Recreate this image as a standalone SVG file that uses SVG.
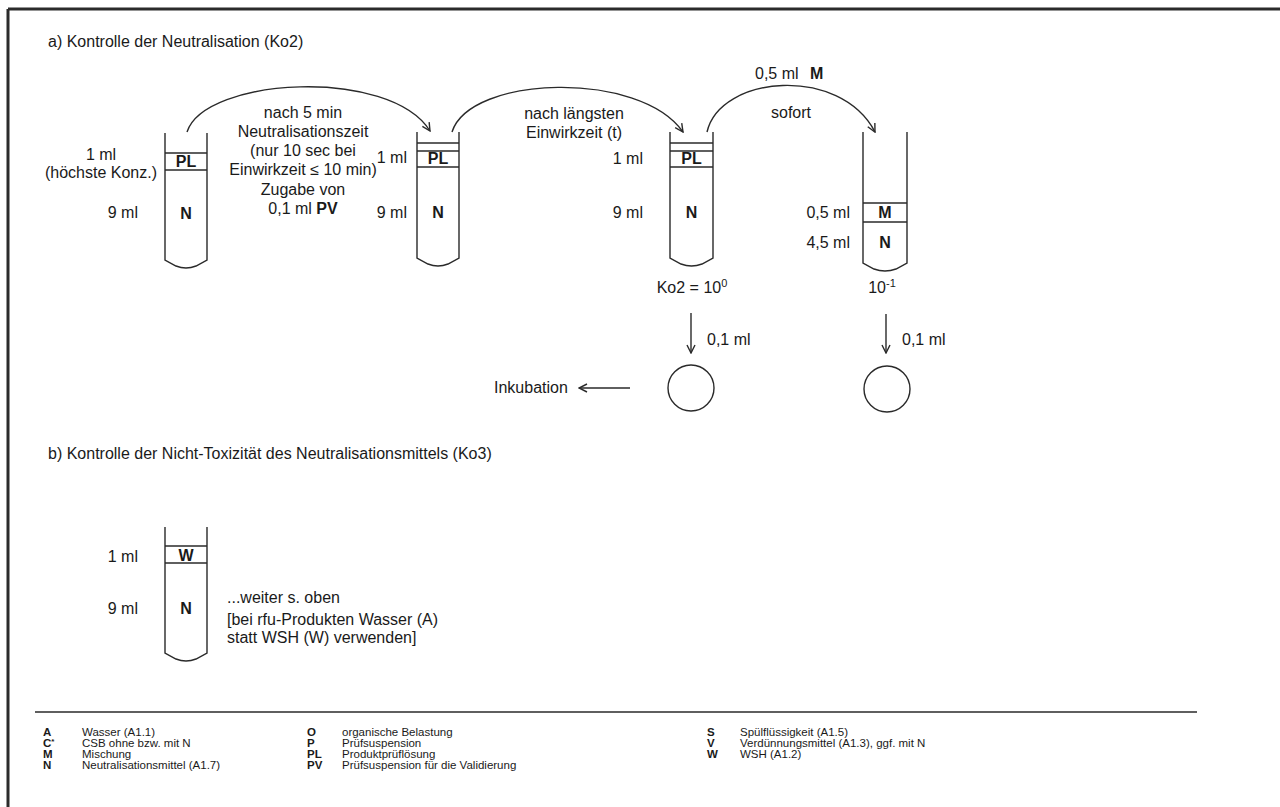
<svg xmlns="http://www.w3.org/2000/svg" width="1280" height="807" viewBox="0 0 1280 807">
<defs>
<style>
text{font-family:"Liberation Sans",Arial,sans-serif;fill:#1a1a1a;font-size:16px}
.b{font-weight:bold}
.c{text-anchor:middle}
.e{text-anchor:end}
.lg{font-size:11.5px}
.tube{fill:none;stroke:#2a2a2a;stroke-width:1.4}
.band{stroke:#2a2a2a;stroke-width:1.4}
.con{fill:none;stroke:#2a2a2a;stroke-width:1.4}
.plate{fill:none;stroke:#2a2a2a;stroke-width:1.4}
</style>
<marker id="ah" viewBox="0 0 10 10" refX="9" refY="5" markerWidth="10" markerHeight="10" markerUnits="userSpaceOnUse" orient="auto">
<path d="M1,1 L9,5 L1,9" fill="none" stroke="#2a2a2a" stroke-width="1.4"/>
</marker>
</defs>
<rect width="1280" height="807" fill="#ffffff"/>
<g id="frame">
<line x1="8" y1="9" x2="1280" y2="9" stroke="#2b2b2b" stroke-width="3"/>
<line x1="8" y1="9" x2="8" y2="807" stroke="#2b2b2b" stroke-width="3"/>
</g>
<g id="heading-a"><text x="48" y="47">a) Kontrolle der Neutralisation (Ko2)</text></g>
<g id="tube1">
<path class="tube" d="M165,133 V260 L176,266 Q186,270 196,266 L207,260 V133"/>
<line class="band" x1="165" y1="153" x2="207" y2="153"/>
<line class="band" x1="165" y1="170" x2="207" y2="170"/>
<text class="b c" x="186" y="167">PL</text>
<text class="b c" x="186" y="219">N</text>
<text class="c" x="101" y="160">1 ml</text>
<text class="c" x="101" y="178">(höchste Konz.)</text>
<text class="e" x="138" y="218">9 ml</text>
</g>
<g id="step1-label">
<text class="c" x="303" y="118">nach 5 min</text>
<text class="c" x="303" y="137">Neutralisationszeit</text>
<text class="c" x="303" y="156">(nur 10 sec bei</text>
<text class="c" x="303" y="175">Einwirkzeit ≤ 10 min)</text>
<text class="c" x="303" y="195">Zugabe von</text>
<text class="c" x="303" y="214">0,1 ml <tspan class="b">PV</tspan></text>
</g>
<g id="tube2">
<path class="tube" d="M417,132 V258 L428,264 Q438,268 448,264 L459,258 V132"/>
<line class="band" x1="417" y1="143" x2="459" y2="143"/>
<line class="band" x1="417" y1="151" x2="459" y2="151"/>
<line class="band" x1="417" y1="167" x2="459" y2="167"/>
<text class="b c" x="438" y="164">PL</text>
<text class="b c" x="438" y="218">N</text>
<text class="e" x="407" y="163">1 ml</text>
<text class="e" x="407" y="218">9 ml</text>
</g>
<g id="step2-label">
<text class="c" x="574" y="119">nach längsten</text>
<text class="c" x="574" y="138">Einwirkzeit (t)</text>
</g>
<g id="tube3">
<path class="tube" d="M670,132 V258 L681,264 Q691.5,268 702,264 L713,258 V132"/>
<line class="band" x1="670" y1="143" x2="713" y2="143"/>
<line class="band" x1="670" y1="151" x2="713" y2="151"/>
<line class="band" x1="670" y1="167" x2="713" y2="167"/>
<text class="b c" x="691.5" y="164">PL</text>
<text class="b c" x="691.5" y="218">N</text>
<text class="e" x="643" y="164">1 ml</text>
<text class="e" x="643" y="218">9 ml</text>
<text class="c" x="692" y="293">Ko2 = 10<tspan font-size="11" dy="-6">0</tspan></text>
</g>
<g id="step3-label">
<text x="755" y="79">0,5 ml</text>
<text class="b" x="810" y="79">M</text>
<text x="771" y="118">sofort</text>
</g>
<g id="tube4">
<path class="tube" d="M863,132 V263 L874,269 Q885,273 896,269 L907,263 V132"/>
<line class="band" x1="863" y1="203" x2="907" y2="203"/>
<line class="band" x1="863" y1="222" x2="907" y2="222"/>
<text class="b c" x="885" y="218">M</text>
<text class="b c" x="885" y="248">N</text>
<text class="e" x="850" y="218">0,5 ml</text>
<text class="e" x="850" y="248">4,5 ml</text>
<text class="c" x="882" y="293">10<tspan font-size="11" dy="-6">-1</tspan></text>
</g>
<g id="plate1">
<circle class="plate" cx="691" cy="388" r="23"/>
<text x="707" y="345">0,1 ml</text>
</g>
<g id="plate2">
<circle class="plate" cx="887" cy="389" r="23"/>
<text x="902" y="345">0,1 ml</text>
</g>
<g id="incubation"><text x="494" y="393">Inkubation</text></g>
<g id="connectors">
<path class="con" d="M187,132 C205,77 390,67 430,131" marker-end="url(#ah)"/>
<path class="con" d="M452,132 C470,75 640,70 683,132" marker-end="url(#ah)"/>
<path class="con" d="M707,132 C720,75 840,65 875,132" marker-end="url(#ah)"/>
<line class="con" x1="691" y1="313" x2="691" y2="353" marker-end="url(#ah)"/>
<line class="con" x1="886" y1="314" x2="886" y2="353" marker-end="url(#ah)"/>
<line class="con" x1="630" y1="388" x2="579" y2="388" marker-end="url(#ah)"/>
</g>
<g id="heading-b"><text x="48" y="459">b) Kontrolle der Nicht-Toxizität des Neutralisationsmittels (Ko3)</text></g>
<g id="tubeB">
<path class="tube" d="M165,527 V653 L176,659 Q186,663 196,659 L207,653 V527"/>
<line class="band" x1="165" y1="546" x2="207" y2="546"/>
<line class="band" x1="165" y1="563" x2="207" y2="563"/>
<text class="b c" x="186" y="561">W</text>
<text class="b c" x="186" y="614">N</text>
<text class="e" x="138" y="562">1 ml</text>
<text class="e" x="138" y="614">9 ml</text>
</g>
<g id="noteB">
<text x="227" y="603">...weiter s. oben</text>
<text x="227" y="625">[bei rfu-Produkten Wasser (A)</text>
<text x="227" y="643">statt WSH (W) verwenden]</text>
</g>
<g id="legend">
<line x1="35" y1="712" x2="1197" y2="712" stroke="#2a2a2a" stroke-width="1.6"/>
<text class="lg b" x="43" y="736">A</text><text class="lg" x="82" y="736">Wasser (A1.1)</text>
<text class="lg b" x="43" y="747">C<tspan font-size="8" dy="-3">*</tspan></text><text class="lg" x="82" y="747">CSB ohne bzw. mit N</text>
<text class="lg b" x="43" y="758">M</text><text class="lg" x="82" y="758">Mischung</text>
<text class="lg b" x="43" y="769">N</text><text class="lg" x="82" y="769">Neutralisationsmittel  (A1.7)</text>
<text class="lg b" x="307" y="736">O</text><text class="lg" x="342" y="736">organische Belastung</text>
<text class="lg b" x="307" y="747">P</text><text class="lg" x="342" y="747">Prüfsuspension</text>
<text class="lg b" x="307" y="758">PL</text><text class="lg" x="342" y="758">Produktprüflösung</text>
<text class="lg b" x="307" y="769">PV</text><text class="lg" x="342" y="769">Prüfsuspension für die Validierung</text>
<text class="lg b" x="707" y="736">S</text><text class="lg" x="740" y="736">Spülflüssigkeit (A1.5)</text>
<text class="lg b" x="707" y="747">V</text><text class="lg" x="740" y="747">Verdünnungsmittel (A1.3), ggf. mit N</text>
<text class="lg b" x="707" y="758">W</text><text class="lg" x="740" y="758">WSH (A1.2)</text>
</g>
</svg>
